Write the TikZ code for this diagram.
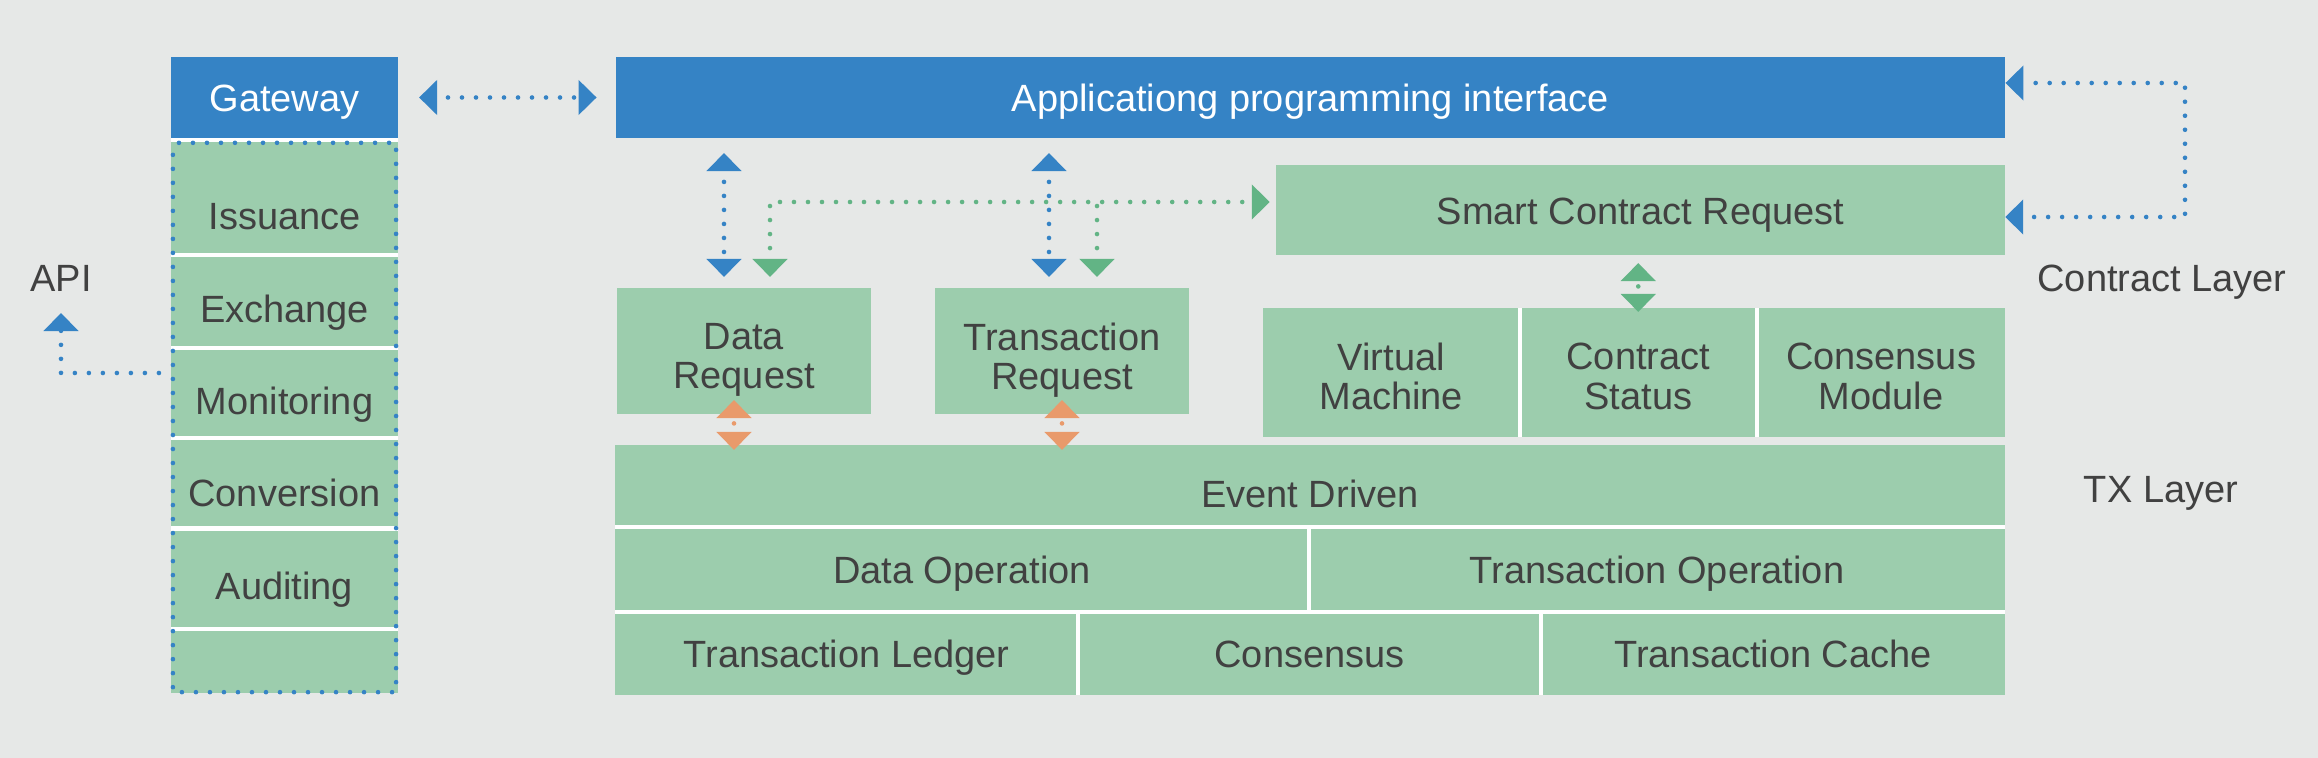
\documentclass[tikz,border=0pt]{standalone}
\usepackage{fontspec}
\setmainfont{Liberation Sans}
\usepackage{xcolor}
\usepackage{tikz}
\usetikzlibrary{arrows.meta}

\definecolor{bgGray}{HTML}{E6E8E7}
\definecolor{apiBlue}{HTML}{3583C5}
\definecolor{boxGreen}{HTML}{9CCDAD}
\definecolor{arrGreen}{HTML}{62B485}
\definecolor{arrOrange}{HTML}{E99A6B}
\definecolor{txtGray}{HTML}{414141}

\tikzset{
	blk/.style={fill=boxGreen, text=txtGray, inner sep=0pt, outer sep=0pt, align=center, font=\fontsize{10.8}{11.2}\selectfont},
	one/.style={text height=8pt, text depth=0pt},
	bar/.style={blk, one, fill=apiBlue, text=white},
	lbl/.style={text=txtGray, inner sep=0pt, align=center, font=\fontsize{10.8}{11.2}\selectfont},
	sep/.style={draw=white, line width=0.04cm},
	dotline/.style={line width=0.046cm, line cap=round, dash pattern=on 0pt off 0.14cm, dash phase=0.02cm},
	shortdot/.style={line width=0.046cm, line cap=round, dash pattern=on 0pt off 0.2cm, dash phase=0.135cm},
	bluedot/.style={dotline, draw=apiBlue},
	greendot/.style={dotline, draw=arrGreen},
	greenshort/.style={shortdot, draw=arrGreen},
	orangeshort/.style={shortdot, draw=arrOrange},
	>={Triangle[length=0.18cm,width=0.34cm]}
}

\begin{document}
\begin{tikzpicture}[x=0.01cm,y=-0.01cm]
	\fill[bgGray] (0,0) rectangle (2318,758);
	
	% gateway column
	\node[bar, minimum width=2.27cm, minimum height=0.81cm] (gw) at (284.5,97.5) {Gateway};
	\node[blk, minimum width=2.27cm, minimum height=5.53cm] (apps) at (284.5,416.5) {};
	\foreach \y in {140,255.5,348,438.5,528.5,628.5} { \draw[sep] (171,\y) -- (398,\y); }
	\foreach \nm/\t/\y in {iss/Issuance/230, exc/Exchange/323, mon/Monitoring/415, cnv/Conversion/507, aud/Auditing/600} {
		\node[lbl, anchor=base] (\nm) at (284.5,\y) {\t};
	}
	\draw[bluedot] ([shift={(2,3)}]apps.north west) rectangle ([shift={(-2,-1)}]apps.south east);
	
	% api bar and request boxes
	\node[bar, minimum width=13.89cm, minimum height=0.81cm] (api) at (1310.5,97.5) {Applicationg programming interface};
	\node[blk, minimum width=2.54cm, minimum height=1.26cm] (dr) at (744,351) {};
	\node[blk, minimum width=2.54cm, minimum height=1.26cm] (tr) at (1062,351) {};
	\node[lbl, yshift=-0.09cm] (drTxt) at (dr) {Data\\Request};
	\node[lbl, yshift=-0.09cm] (trTxt) at (tr) {Transaction\\Request};
	
	% contract layer
	\node[blk, one, minimum width=7.29cm, minimum height=0.90cm] (scr) at (1640.5,210) {Smart Contract Request};
	\node[blk, minimum width=2.565cm, minimum height=1.29cm] (vm) at (1391.25,372.5) {};
	\node[blk, minimum width=2.375cm, minimum height=1.29cm] (cs) at (1638.25,372.5) {};
	\node[blk, minimum width=2.48cm, minimum height=1.29cm] (cm) at (1881,372.5) {};
	\node[lbl, yshift=-0.04cm] (vmTxt) at (vm) {Virtual\\Machine};
	\node[lbl, yshift=-0.04cm] (csTxt) at (cs) {Contract\\Status};
	\node[lbl, yshift=-0.04cm] (cmTxt) at (cm) {Consensus\\Module};
	\draw[sep] (vm.north east) -- (vm.south east);
	\draw[sep] (cs.north east) -- (cs.south east);
	
	% tx layer
	\node[blk, one, text height=12pt, minimum width=13.90cm, minimum height=0.82cm] (ed) at (1310,486) {Event Driven};
	\node[blk, one, minimum width=6.94cm, minimum height=0.85cm] (dop) at (962,569.5) {Data Operation};
	\node[blk, one, minimum width=6.96cm, minimum height=0.85cm] (top) at (1657,569.5) {Transaction Operation};
	\node[blk, one, minimum width=4.63cm, minimum height=0.83cm] (tl) at (846.5,653.5) {Transaction Ledger};
	\node[blk, one, minimum width=4.63cm, minimum height=0.83cm] (cons) at (1309.5,653.5) {Consensus};
	\node[blk, one, minimum width=4.64cm, minimum height=0.83cm] (tc) at (1773,653.5) {Transaction Cache};
	\draw[sep] (ed.south west) -- (ed.south east);
	\draw[sep] (dop.south west) -- (top.south east);
	\draw[sep] (dop.north east) -- (dop.south east);
	\draw[sep] (tl.north east) -- (tl.south east);
	\draw[sep] (cons.north east) -- (cons.south east);
	
	% layer labels
	\node[lbl, anchor=base] (apiLbl) at (61,292) {API};
	\node[lbl, anchor=base] (ctrLbl) at (2162,292) {Contract Layer};
	\node[lbl, anchor=base] (txLbl) at (2161,503) {TX Layer};
	
	% points for the connectors
	\coordinate (xdb) at (724,0);
	\coordinate (xdg) at (770,0);
	\coordinate (xtb) at (1049,0);
	\coordinate (xtg) at (1097,0);
	\coordinate (xdo) at (734,0);
	\coordinate (busY) at (0,202);
	\coordinate (apiBend) at (61,373);
	\coordinate (apiTip) at (61,313);
	\coordinate (loopTop) at (2185,83);
	\coordinate (loopLow) at (0,217);
	
	% connectors
	\draw[bluedot, <->, shorten <=0.21cm, shorten >=0.19cm] (gw) -- (api.west |- gw);
	\draw[bluedot, ->] (apps.west |- apiBend) -- (apiBend) -- (apiTip);
	\draw[bluedot, <->, shorten <=0.15cm, shorten >=0.11cm] (api.south -| xdb) -- (dr.north -| xdb);
	\draw[bluedot, <->, shorten <=0.15cm, shorten >=0.11cm] (api.south -| xtb) -- (tr.north -| xtb);
	\draw[greendot, <->, shorten <=0.11cm, shorten >=0.06cm] (dr.north -| xdg) |- (scr.west |- busY);
	\draw[greendot, <-, shorten <=0.11cm] (tr.north -| xtg) -- (xtg |- busY);
	\draw[bluedot, <->] (scr.east |- loopLow) -| (loopTop) -- (api.east |- loopTop);
	\draw[greenshort, <->, shorten <=0.08cm, shorten >=-0.04cm] (scr.south -| cs) -- (cs.north);
	\draw[orangeshort, <->, shorten <=-0.14cm, shorten >=-0.05cm] (dr.south -| xdo) -- (ed.north -| xdo);
	\draw[orangeshort, <->, shorten <=-0.14cm, shorten >=-0.05cm] (tr.south) -- (ed.north -| tr.south);
\end{tikzpicture}
\end{document}
